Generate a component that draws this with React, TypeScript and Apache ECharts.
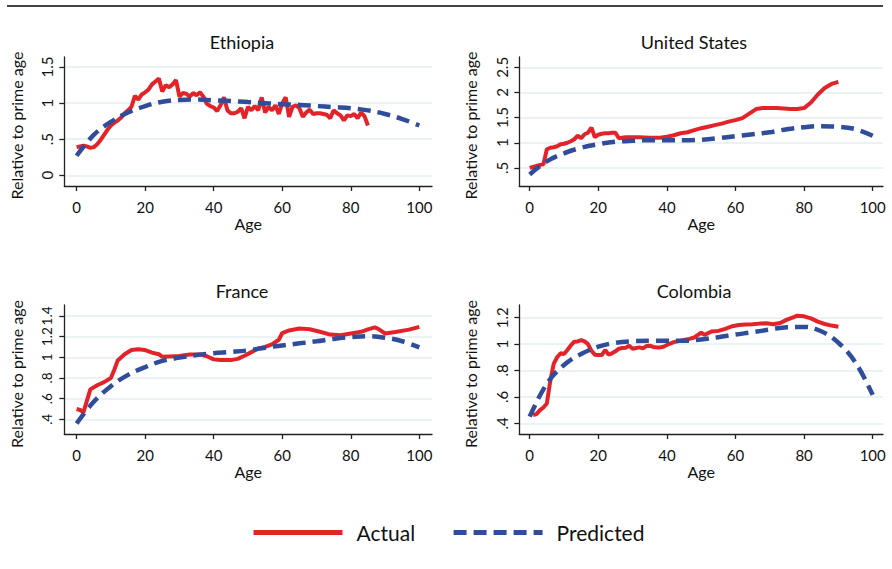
import React, { useEffect, useRef } from "react";
import * as echarts from "echarts";

const FONT = 'Lato, "Open Sans", "DejaVu Sans", sans-serif';
const RED = "#e3232a";
const BLUE = "#2f4d9a";

const countries = ["Ethiopia", "United States", "France", "Colombia"];
const xTicks = [0, 20, 40, 60, 80, 100];

const ethiopiaYTicks = [0, 0.5, 1, 1.5];
const usYTicks = [0.5, 1, 1.5, 2, 2.5];
const franceYTicks = [0.4, 0.6, 0.8, 1, 1.2, 1.4];
const colombiaYTicks = [0.4, 0.6, 0.8, 1, 1.2];

// Actual
const ethiopiaActualAge = [0,1,2,3,4,5,6,7,8,9,10,11,12,13,14,15,16,17,18,19,20,21,22,23,24,25,26,27,28,29,30,31,32,33,34,35,36,37,38,39,40,41,42,43,44,45,46,47,48,49,50,51,52,53,54,55,56,57,58,59,60,61,62,63,64,65,66,67,68,69,70,71,72,73,74,75,76,77,78,79,80,81,82,83,84,85];
const ethiopiaActual = [0.39,0.40,0.41,0.40,0.38,0.39,0.43,0.49,0.56,0.63,0.69,0.73,0.76,0.80,0.86,0.90,0.95,1.10,1.05,1.12,1.15,1.19,1.26,1.30,1.34,1.16,1.25,1.22,1.26,1.32,1.09,1.14,1.13,1.09,1.14,1.11,1.15,1.09,0.99,0.96,0.94,0.89,0.97,1.08,0.90,0.86,0.86,0.88,0.93,0.79,0.95,0.90,0.96,0.90,1.08,0.87,0.95,0.90,0.97,0.85,1.00,1.08,0.81,0.95,0.97,0.93,0.81,0.87,0.91,0.85,0.86,0.86,0.85,0.84,0.79,0.90,0.86,0.83,0.76,0.83,0.82,0.85,0.79,0.87,0.82,0.69];

const usActualAge = [0,1,2,3,4,5,6,7,8,9,10,11,12,13,14,15,16,17,18,19,20,21,22,23,24,25,26,27,28,30,32,35,38,40,42,44,46,48,50,52,54,56,58,60,62,64,66,68,70,72,74,76,78,80,82,84,86,88,90];
const usActual = [0.50,0.52,0.54,0.56,0.57,0.87,0.90,0.91,0.93,0.97,0.98,1.00,1.03,1.07,1.14,1.09,1.17,1.20,1.30,1.11,1.16,1.18,1.19,1.19,1.20,1.20,1.09,1.10,1.11,1.11,1.11,1.10,1.10,1.12,1.15,1.19,1.21,1.25,1.29,1.32,1.35,1.38,1.42,1.45,1.49,1.58,1.67,1.69,1.69,1.69,1.68,1.67,1.67,1.69,1.80,1.96,2.09,2.17,2.21];

const franceActualAge = [0,1,2,4,6,8,10,11,12,14,16,18,20,22,24,25,27,30,33,36,38,40,42,45,47,49,51,53,55,57,59,60,62,65,68,71,74,77,80,83,85,87,88,90,93,97,100];
const franceActual = [0.50,0.49,0.47,0.69,0.73,0.76,0.80,0.88,0.97,1.03,1.07,1.078,1.07,1.045,1.03,1.005,1.008,1.012,1.028,1.028,1.01,0.98,0.973,0.973,0.985,1.015,1.05,1.085,1.10,1.125,1.17,1.235,1.26,1.278,1.272,1.247,1.22,1.213,1.23,1.247,1.27,1.289,1.275,1.23,1.245,1.268,1.295];

const colombiaActualAge = [1,2,3,4,5,6,7,8,9,10,11,12,13,14,15,16,17,18,19,20,21,22,23,24,25,26,27,28,29,30,31,32,33,34,35,36,37,38,39,40,42,44,46,48,50,51,53,55,57,59,61,63,65,67,69,71,73,75,77,78,80,82,84,86,88,90];
const colombiaActual = [0.463,0.47,0.50,0.52,0.55,0.72,0.85,0.90,0.93,0.925,0.955,0.99,1.018,1.02,1.03,1.02,1.00,0.95,0.92,0.917,0.917,0.955,0.92,0.93,0.945,0.965,0.97,0.973,0.988,0.965,0.97,0.975,0.968,0.985,0.988,0.978,0.975,0.975,0.98,0.993,1.015,1.025,1.036,1.05,1.087,1.07,1.095,1.10,1.115,1.135,1.145,1.148,1.15,1.155,1.157,1.15,1.16,1.185,1.205,1.215,1.21,1.195,1.17,1.152,1.14,1.132];

// Predicted
const predAge = [0,5,10,15,20,25,30,35,40,45,50,55,60,65,70,75,80,85,90,95,100];
const ethiopiaPred = [0.27,0.56,0.74,0.87,0.96,1.02,1.045,1.05,1.04,1.03,1.015,1.0,0.985,0.975,0.96,0.945,0.93,0.90,0.85,0.78,0.69];
const usPred = [0.37,0.63,0.79,0.90,0.97,1.02,1.04,1.05,1.05,1.05,1.06,1.09,1.13,1.17,1.21,1.27,1.31,1.33,1.32,1.27,1.14];
const francePred = [0.36,0.57,0.72,0.83,0.905,0.965,0.997,1.022,1.04,1.052,1.067,1.093,1.115,1.135,1.155,1.178,1.195,1.205,1.19,1.155,1.096];
const colombiaPred = [0.45,0.70,0.842,0.925,0.98,1.01,1.022,1.025,1.025,1.025,1.035,1.052,1.072,1.09,1.11,1.128,1.13,1.097,1.01,0.86,0.615];

const panels = [
  { name: countries[0], aAge: ethiopiaActualAge, a: ethiopiaActual, p: ethiopiaPred, yTicks: ethiopiaYTicks, yFont: 15, yMin: -0.149, yMax: 1.64, xMin: -3.6, xMax: 103.7, left: 64.3, top: 57, width: 367.7, height: 129, titleX: 242, titleY: 42, nameX: 16.7, nameY: 125.5 },
  { name: countries[1], aAge: usActualAge, a: usActual, p: usPred, yTicks: usYTicks, yFont: 15, yMin: 0.14, yMax: 2.706, xMin: -3.03, xMax: 103.0, left: 519.3, top: 57, width: 363.7, height: 129, titleX: 694, titleY: 42, nameX: 470, nameY: 125.5 },
  { name: countries[2], aAge: franceActualAge, a: franceActual, p: francePred, yTicks: franceYTicks, yFont: 13.5, yMin: 0.258, yMax: 1.506, xMin: -3.6, xMax: 103.7, left: 64.3, top: 305, width: 367.7, height: 129, titleX: 242, titleY: 290.7, nameX: 16.7, nameY: 374 },
  { name: countries[3], aAge: colombiaActualAge, a: colombiaActual, p: colombiaPred, yTicks: colombiaYTicks, yFont: 15, yMin: 0.319, yMax: 1.296, xMin: -3.03, xMax: 103.0, left: 519.3, top: 305, width: 363.7, height: 129, titleX: 694, titleY: 290.7, nameX: 470, nameY: 374 },
];

const fmtY = (v: number) => {
  const r = Math.round(v * 10) / 10;
  if (r === 0) return "0";
  const s = String(r);
  return s.startsWith("0.") ? s.slice(1) : s;
};

export default function App() {
  const ref = useRef<HTMLDivElement>(null);
  useEffect(() => {
    if (!ref.current) return;
    const chart = echarts.init(ref.current, undefined, { renderer: "svg" });
    const axisLine = { show: true, onZero: false, lineStyle: { color: "#222", width: 1.3 } };
    const axisTickBase = { show: true, length: 5, lineStyle: { color: "#222", width: 1.3 } };
    const option: any = {
      animation: false,
      backgroundColor: "#fff",
      textStyle: { fontFamily: FONT },
      grid: panels.map((p) => ({ left: p.left, top: p.top, width: p.width, height: p.height, containLabel: false })),
      xAxis: panels.map((p, i) => ({
        type: "value",
        gridIndex: i,
        min: p.xMin,
        max: p.xMax,
        name: "Age",
        nameLocation: "middle",
        nameGap: 29,
        nameTextStyle: { fontSize: 16, color: "#111", fontFamily: FONT },
        axisLine,
        axisTick: { ...axisTickBase, customValues: xTicks },
        axisLabel: { customValues: xTicks, fontSize: 15, color: "#111", margin: 13, fontFamily: FONT, hideOverlap: false, interval: 0 },
        splitLine: { show: false },
      })),
      yAxis: panels.map((p, i) => ({
        type: "value",
        gridIndex: i,
        min: p.yMin,
        max: p.yMax,
        axisLine,
        axisTick: { ...axisTickBase, customValues: p.yTicks },
        axisLabel: { customValues: p.yTicks, rotate: 90, fontSize: p.yFont, color: "#111", margin: 10, fontFamily: FONT, formatter: fmtY, hideOverlap: false, interval: 0, showMaxLabel: true, showMinLabel: true },
        splitLine: { show: true, lineStyle: { color: "#e5eef1", width: 1.5 } },
      })),
      legend: {
        left: 246,
        top: 517,
        itemWidth: 89,
        itemHeight: 16,
        itemGap: 36,
        data: ["Actual", "Predicted"],
        textStyle: { fontSize: 21, color: "#111", fontFamily: FONT, padding: [0, 0, 0, 9] },
        lineStyle: { width: 5 },
        itemStyle: { opacity: 0 },
      },
      series: panels.flatMap((p, i) => [
        {
          name: "Actual",
          type: "line",
          xAxisIndex: i,
          yAxisIndex: i,
          data: p.aAge.map((a, j) => [a, p.a[j]]),
          symbol: "none",
          lineStyle: { color: RED, width: 4 },
          itemStyle: { color: RED },
          z: 2,
        },
        {
          name: "Predicted",
          type: "line",
          xAxisIndex: i,
          yAxisIndex: i,
          data: predAge.map((a, j) => [a, p.p[j]]),
          symbol: "none",
          smooth: 0.4,
          lineStyle: { color: BLUE, width: 4.5, type: [13, 7] },
          itemStyle: { color: BLUE },
          z: 3,
        },
      ]),
      graphic: [
        { type: "line", shape: { x1: 7, y1: 6, x2: 883, y2: 6 }, style: { stroke: "#444", lineWidth: 1.8 } },
        ...panels.map((p) => ({
          type: "text",
          x: p.titleX,
          y: p.titleY,
          style: { text: p.name, fontSize: 18, fill: "#111", fontFamily: FONT, align: "center", verticalAlign: "middle" },
        })),
        ...panels.map((p) => ({
          type: "text",
          x: p.nameX,
          y: p.nameY,
          rotation: Math.PI / 2,
          style: { text: "Relative to prime age", fontSize: 16, fill: "#111", fontFamily: FONT, align: "center", verticalAlign: "middle" },
        })),
      ],
    };
    chart.setOption(option);
    return () => chart.dispose();
  }, []);
  return <div ref={ref} style={{ position: "fixed", left: 0, top: 0, width: 892, height: 569, background: "#fff" }} />;
}
